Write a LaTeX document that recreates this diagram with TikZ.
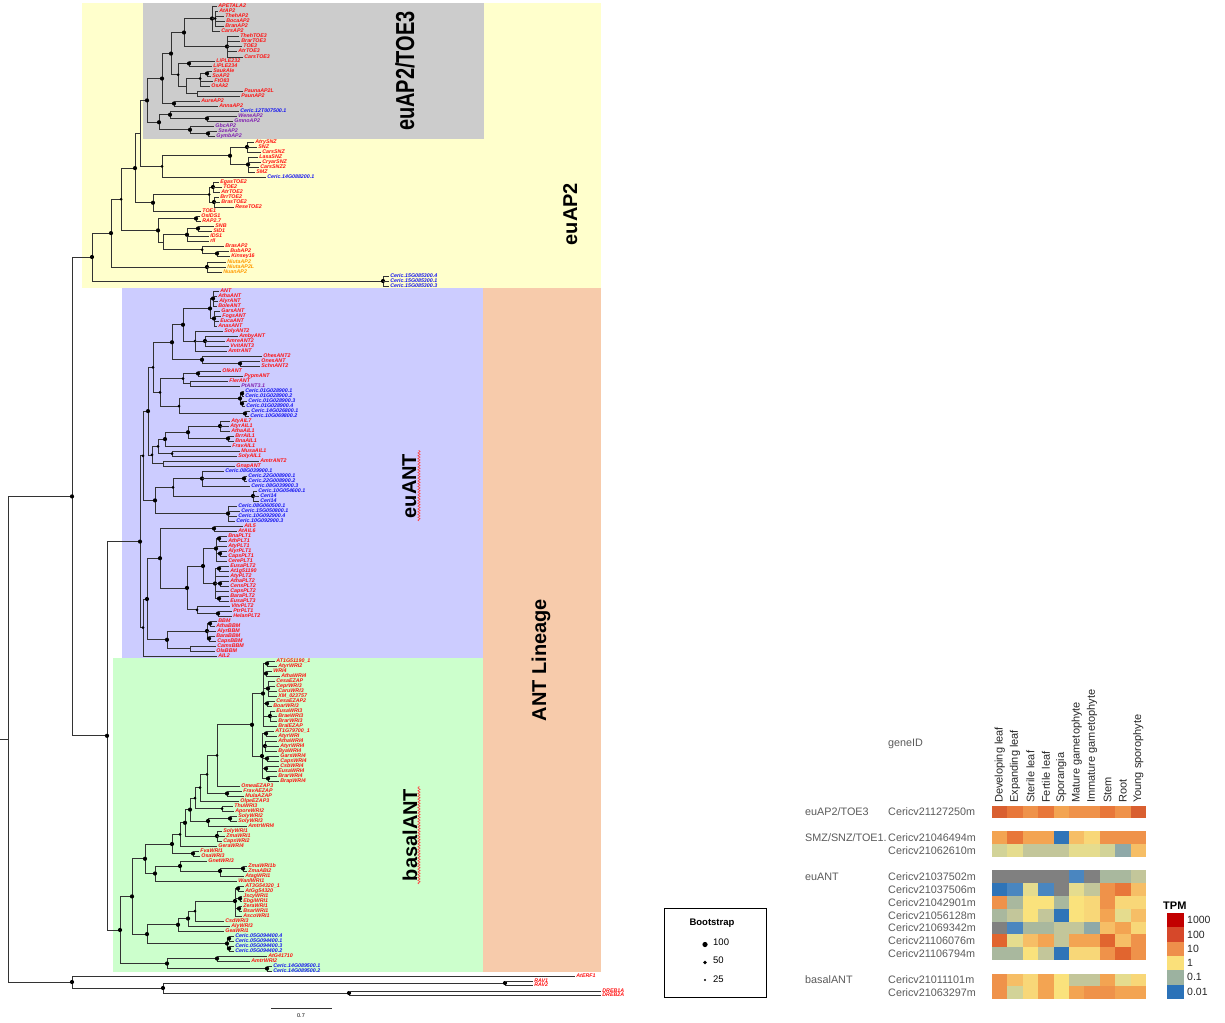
\documentclass[tikz,border=0pt]{standalone}
\usepackage{graphicx}
\usepackage{fontspec}
\setmainfont{Liberation Sans}
\usetikzlibrary{decorations.pathmorphing}
\definecolor{cyel}{HTML}{FFFFCC}
\definecolor{cgry}{HTML}{CCCCCC}
\definecolor{cblu}{HTML}{CCCCFF}
\definecolor{cgrn}{HTML}{CCFFCC}
\definecolor{corg}{HTML}{F7CBAB}
\definecolor{lr}{HTML}{FF1010}
\definecolor{lb}{HTML}{1414F0}
\definecolor{lp}{HTML}{8020B0}
\definecolor{lo}{HTML}{FF9900}
\definecolor{txg}{HTML}{5A5A5A}
\definecolor{hA}{HTML}{D95F30}
\definecolor{hB}{HTML}{E8773A}
\definecolor{hC}{HTML}{EF924A}
\definecolor{hD}{HTML}{F3A452}
\definecolor{hE}{HTML}{F6BE66}
\definecolor{hF}{HTML}{F8D778}
\definecolor{hG}{HTML}{FAE27C}
\definecolor{hH}{HTML}{E5DC8E}
\definecolor{hI}{HTML}{D2D398}
\definecolor{hJ}{HTML}{C3C69A}
\definecolor{hK}{HTML}{A9B89E}
\definecolor{hL}{HTML}{8FA9A8}
\definecolor{hM}{HTML}{4A86C0}
\definecolor{hN}{HTML}{2F74B8}
\definecolor{hO}{HTML}{808080}
\definecolor{hP}{HTML}{E1652F}
\definecolor{t1}{HTML}{C20000}
\definecolor{t2}{HTML}{D6482A}
\definecolor{t3}{HTML}{EE8F4B}
\definecolor{t4}{HTML}{FAE07A}
\definecolor{t5}{HTML}{9CB2A0}
\definecolor{t6}{HTML}{2B72B8}
\tikzset{
 br/.style={draw=black!80, line width=0.75pt},
 lbl/.style={anchor=west, inner sep=0pt, font=\fontsize{5.3}{5.3}\selectfont\bfseries\itshape},
 clade/.style={rotate=90, anchor=base, inner sep=0pt, font=\fontsize{20}{24}\selectfont\bfseries},
 htxt/.style={anchor=west, inner sep=0pt, text=txg, font=\fontsize{10.8}{12}\selectfont},
 ctxt/.style={rotate=90, anchor=west, inner sep=0pt, text=black!85, font=\fontsize{11}{12}\selectfont},
 squig/.style={draw=red!75, line width=0.6pt, decorate, decoration={snake, amplitude=1.1pt, segment length=2.8pt}},
 ltxt/.style={anchor=west, inner sep=0pt, text=black!85, font=\fontsize{10.5}{12}\selectfont},
}
\newcommand\Vt[3]{\draw[br] (#1,#2) -- (#1,#3);}
\newcommand\Hz[3]{\draw[br] (#1,#3) -- (#2,#3);}
\newcommand\Dt[2]{\fill[black] (#1,#2) circle (2.1pt);}
\newcommand\Ds[2]{\fill[black] (#1,#2) circle (1.5pt);}
\newcommand\Lf[5]{\draw[br] (#1,#3) -- (#2,#3); \node[lbl,text=#4] at (#2+1.2,#3) {#5};}
\newcommand\Cl[3]{\foreach \yy/\ee/\nn in {#3} {\Lf{#1}{\ee}{\yy}{#2}{\nn}}}
\newcommand\HRow[2]{\foreach \hc [count=\ii from 0] in {#2} {\fill[\hc] (992+\ii*15.4,#1) rectangle (992+\ii*15.4+15.45,#1+12.85);}}
\begin{document}
\begin{tikzpicture}[x=1pt,y=-1pt]
\useasboundingbox (0,0) rectangle (1225,1022);
% ---------- clade backgrounds
\fill[cyel] (82,3) rectangle (601,288);
\fill[cgry] (143,3) rectangle (484,139);
\fill[cblu] (122,288) rectangle (483,658);
\fill[cgrn] (113,658) rectangle (483,972);
\fill[corg] (483,288) rectangle (601,972);
% ---------- clade labels
\node[clade] (labtoe) at (414,71) {\scalebox{1}[1.3]{euAP2/TOE3}};
\node[clade] (labap2) at (577,214) {euAP2};
\node[clade] (labeuant) at (416,486) {euANT};
\node[clade] (lablin) at (546,660) {ANT Lineage};
\node[clade] (labbas) at (417,835) {basalANT};
\draw[squig] (419,521) -- (419,450);
\draw[squig] (419,884) -- (419,786);
% ---------- root and backbone
\Vt{8}{496.4}{982}
\draw[br] (0,739.2) -- (8,739.2);
\Hz{8}{72}{496.4} \Hz{8}{72}{982}
\Vt{72}{257}{735.8} \Dt{72}{496.4}
\Hz{72}{92}{257} \Hz{72}{107}{735.8}
% ---------- euAP2
\Vt{92}{233.1}{281} \Dt{92}{257}
\Hz{92}{111}{233.1} \Hz{92}{383}{281}
\Vt{383}{276}{286} \Dt{383}{281}
\Cl{383}{lb}{276/389/Ceric.15G085300.4, 281/389/Ceric.15G085300.1, 286/389/Ceric.15G085300.3}
\Vt{111}{199.25}{267} \Dt{111}{233.1}
\Hz{111}{121}{199.25} \Hz{111}{207}{267}
\Vt{207}{262}{272} \Dt{207}{267}
\Cl{207}{lo}{262/226/NiutaAP2, 267/226/NiutaAP2L, 272/222/NuanAP2}
\Vt{121}{168.1}{230.4} \Ds{121}{199.25}
\Hz{121}{135}{168.1} \Hz{121}{158}{230.4}
\Vt{135}{133.4}{202.75} \Dt{135}{168.1}
\Hz{135}{140}{133.4} \Hz{135}{153}{202.75}
\Vt{140}{100.4}{166.4}
\Hz{140}{147}{100.4} \Hz{140}{162}{166.4}
% SNZ
\Vt{162}{155.75}{177} \Ds{162}{166.4}
\Hz{162}{230}{155.75}
\Lf{162}{266}{177}{lb}{Ceric.14G088200.1}
\Vt{230}{147}{164.5} \Dt{230}{155.75}
\Hz{230}{247}{147} \Hz{230}{248}{164.5}
\Vt{247}{142}{152} \Dt{247}{147}
\Cl{247}{lr}{142/254/AtrySNZ, 147/257/SNZ, 152/261/CarsSNZ}
\Vt{248}{157}{172} \Dt{248}{164.5}
\Cl{248}{lr}{157/258/LasaSNZ, 162/261/CryarSNZ, 167/259/CarsSNZ2, 172/255/SMZ}
% TOE2
\Vt{153}{194.5}{211} \Dt{153}{202.75}
\Hz{153}{209}{194.5}
\Lf{153}{201}{211}{lr}{TOE1}
\Vt{209}{187}{202} \Ds{209}{194.5}
\Hz{209}{213}{187} \Hz{209}{214}{202}
\Vt{213}{182}{192} \Dt{213}{187}
\Cl{213}{lr}{182/219/EgasTOE2, 187/222/TOE2, 192/220/AtrTOE2}
\Vt{214}{197}{207} \Dt{214}{202}
\Cl{214}{lr}{197/219/BrrTOE2, 202/220/BrasTOE2, 207/234/ReseTOE2}
% IDS group
\Vt{158}{218.5}{242.25} \Dt{158}{230.4}
\Hz{158}{196}{218.5} \Hz{158}{163}{242.25}
\Vt{196}{216}{221} \Dt{196}{218.5}
\Cl{196}{lr}{216/200/OsIDS1, 221/201/RAP2.7}
\Vt{163}{234.75}{249.75}
\Hz{163}{187}{234.75} \Hz{163}{202}{249.75}
\Vt{187}{228.5}{241} \Dt{187}{234.75}
\Hz{187}{198}{228.5}
\Cl{187}{lr}{236/209/IDS1, 241/209/rIl}
\Vt{198}{226}{231} \Dt{198}{228.5}
\Cl{198}{lr}{226/214/SNB, 231/212/SID1}
\Vt{202}{246}{253.5} \Ds{202}{249.75}
\Lf{202}{224}{246}{lr}{BrasAP2}
\Hz{202}{217}{253.5}
\Vt{217}{251}{256} \Dt{217}{253.5}
\Cl{217}{lr}{251/229/BubAP2, 256/230/Kinsey16}
% ---------- euAP2/TOE3
\Vt{147}{78.55}{122.25} \Dt{147}{100.4}
\Hz{147}{162}{78.55} \Hz{147}{159}{122.25}
\Vt{162}{53.6}{103.5} \Dt{162}{78.55}
\Hz{162}{171}{53.6} \Hz{162}{174}{103.5}
\Vt{171}{32.5}{74.75} \Dt{171}{53.6}
\Hz{171}{184}{32.5} \Hz{171}{178}{74.75}
\Vt{184}{18.5}{46.5} \Dt{184}{32.5}
\Hz{184}{212}{18.5} \Hz{184}{227}{46.5}
\Vt{212}{6}{31} \Dt{212}{18.5}
\Cl{212}{lr}{6/217/APETALA2, 31/220/CarsAP2}
\Hz{212}{215}{18.5}
\Vt{215}{11}{26} \Ds{215}{18.5}
\Cl{215}{lr}{11/218/AtAP2, 16/224/ThehAP2, 21/225/BocaAP2, 26/224/BranAP2}
\Vt{227}{36}{57} \Dt{227}{46.5}
\Cl{227}{lr}{36/239/ThehTOE3, 41/240/BrarTOE3, 46/242/TOE3, 51/237/AtrTOE3, 57/243/CarsTOE3}
\Vt{178}{63.5}{86} \Ds{178}{74.75}
\Hz{178}{189}{63.5} \Hz{178}{186}{86}
\Vt{189}{61}{66} \Dt{189}{63.5}
\Cl{189}{lr}{61/215/LiPLE232, 66/212/LiPLE234}
\Vt{186}{78.5}{93.5}
\Hz{186}{200}{78.5} \Hz{186}{197}{93.5}
\Vt{200}{73.5}{86} \Ds{200}{78.5}
\Hz{200}{207}{73.5}
\Vt{207}{71}{76} \Dt{207}{73.5}
\Cl{207}{lr}{71/212/SaukAle, 76/211/SoAP2}
\Cl{200}{lr}{81/213/FtO83, 86/210/OsAk2}
\Vt{197}{91}{96}
\Cl{197}{lr}{91/243/PaunaAP2L, 96/240/PaunAP2}
\Vt{174}{101}{106} \Dt{174}{103.5}
\Cl{174}{lr}{101/200/AureAP2, 106/218/AnnaAP2}
\Vt{159}{114.75}{129.75} \Dt{159}{122.25}
\Hz{159}{170}{114.75} \Hz{159}{190}{129.75}
\Vt{170}{111}{118.5} \Dt{170}{114.75}
\Lf{170}{239}{111}{lb}{Ceric.12T007500.1}
\Hz{170}{207}{118.5}
\Vt{207}{116}{121} \Dt{207}{118.5}
\Cl{207}{lp}{116/237/WeneAP2, 121/233/GmnoAP2}
\Vt{190}{126}{133.5} \Dt{190}{129.75}
\Lf{190}{214}{126}{lp}{GbcAP2}
\Hz{190}{208}{133.5}
\Vt{208}{131}{136} \Dt{208}{133.5}
\Cl{208}{lp}{131/217/SzeAP2, 136/215/GymbAP2}
% ---------- ANT lineage
\Vt{107}{541.6}{930} \Dt{107}{735.8}
\Hz{107}{140}{541.6} \Hz{107}{120}{930}
% euANT
\Vt{140}{455.75}{627.5} \Dt{140}{541.6}
\Hz{140}{143}{455.75} \Hz{140}{143}{627.5}
\Vt{143}{411.1}{500.4} \Ds{143}{455.75}
\Hz{143}{148}{411.1} \Hz{143}{155}{500.4}
\Vt{148}{367.25}{454.9} \Dt{148}{411.1}
\Hz{148}{153}{367.25} \Hz{148}{152}{454.9}
\Vt{153}{342.25}{392.25} \Ds{153}{367.25}
\Hz{153}{172}{342.25} \Hz{153}{160}{392.25}
\Vt{172}{324.75}{359.75} \Dt{172}{342.25}
\Hz{172}{183}{324.75} \Hz{172}{202}{359.75}
\Vt{183}{308.5}{341} \Dt{183}{324.75}
\Hz{183}{210}{308.5} \Hz{183}{195}{341}
\Vt{210}{298.5}{318.5} \Dt{210}{308.5}
\Hz{210}{213}{298.5} \Hz{210}{214}{318.5}
\Vt{213}{291}{306} \Dt{213}{298.5}
\Cl{213}{lr}{291/219/ANT, 296/217/AthaANT, 301/218/AlyrANT, 306/217/BoleANT}
\Vt{214}{311}{326} \Dt{214}{318.5}
\Cl{214}{lr}{311/220/GarsANT, 316/221/FogsANT, 321/219/EucaANT, 326/217/AnasANT}
\Vt{195}{331}{351} \Ds{195}{341}
\Lf{195}{223}{331}{lr}{SolyANT2}
\Lf{195}{227}{351}{lr}{AmtrANT}
\Hz{195}{205}{341}
\Vt{205}{336}{346} \Dt{205}{341}
\Cl{205}{lr}{336/238/AmbyANT, 341/225/AmreANT2, 346/229/VvitANT3}
\Vt{202}{356}{363.5} \Dt{202}{359.75}
\Lf{202}{262}{356}{lr}{OhesANT2}
\Hz{202}{240}{363.5}
\Vt{240}{361}{366} \Dt{240}{363.5}
\Cl{240}{lr}{361/260/OnesANT, 366/260/SchnANT2}
\Vt{160}{378.5}{406} \Ds{160}{392.25}
\Hz{160}{183}{378.5} \Hz{160}{179}{406}
\Vt{183}{373.5}{383.5} \Ds{183}{378.5}
\Hz{183}{198}{373.5} \Hz{183}{190}{383.5}
\Vt{198}{371}{376} \Dt{198}{373.5}
\Cl{198}{lr}{371/221/OlkANT, 376/243/PypmANT}
\Vt{190}{381}{386}
\Lf{190}{228}{381}{lr}{FlerANT}
\Lf{190}{240}{386}{lp}{PtANT3.1}
\Vt{179}{398.5}{413.5} \Ds{179}{406}
\Hz{179}{240}{398.5} \Hz{179}{245}{413.5}
\Vt{240}{393.5}{403.5} \Dt{240}{398.5}
\Hz{240}{242}{393.5} \Hz{240}{242}{403.5}
\Vt{242}{391}{396} \Dt{242}{393.5}
\Vt{242}{401}{406} \Dt{242}{403.5}
\Cl{242}{lb}{391/244/Ceric.01G028900.1, 396/244/Ceric.01G028900.2, 401/247/Ceric.01G028900.3, 406/245/Ceric.01G028900.4}
\Vt{245}{411}{416} \Dt{245}{413.5}
\Cl{245}{lb}{411/250/Ceric.14G026800.1, 416/249/Ceric.10G069800.2}
\Vt{152}{446.3}{463.5} \Ds{152}{454.9}
\Hz{152}{158}{446.3} \Hz{152}{163}{463.5}
\Vt{158}{439.1}{453.5} \Ds{158}{446.3}
\Hz{158}{165}{439.1} \Hz{158}{172}{453.5}
\Vt{165}{432.25}{446} \Dt{165}{439.1}
\Hz{165}{188}{432.25}
\Lf{165}{231}{446}{lr}{FravAIL1}
\Vt{188}{426}{438.5} \Dt{188}{432.25}
\Hz{188}{220}{426} \Hz{188}{228}{438.5}
\Vt{220}{421}{431} \Dt{220}{426}
\Cl{220}{lr}{421/230/AtyAIL7, 426/229/AtyrAIL1, 431/230/AthaAIL1}
\Vt{228}{436}{441} \Dt{228}{438.5}
\Cl{228}{lr}{436/234/BrrAIL1, 441/234/BnaAIL1}
\Vt{172}{451}{456} \Ds{172}{453.5}
\Cl{172}{lr}{451/240/MusaAIL1, 456/237/SolyAIL1}
\Vt{163}{461}{466}
\Cl{163}{lr}{461/259/AmtrANT2, 466/235/GnapANT}
\Vt{155}{487.25}{513.5} \Dt{155}{500.4}
\Hz{155}{173}{487.25} \Hz{155}{228}{513.5}
\Vt{173}{478.5}{496} \Ds{173}{487.25}
\Hz{173}{202}{478.5} \Hz{173}{253}{496}
\Vt{202}{471}{486} \Dt{202}{478.5}
\Lf{202}{224}{471}{lb}{Ceric.08G039900.1}
\Lf{202}{250}{486}{lb}{Ceric.08G039900.3}
\Hz{202}{244}{478.5}
\Vt{244}{476}{481} \Dt{244}{478.5}
\Cl{244}{lb}{476/247/Ceric.22G008900.1, 481/247/Ceric.22G008900.2}
\Vt{253}{491}{501} \Dt{253}{496}
\Cl{253}{lb}{491/257/Ceric.10G054600.1, 496/259/Ceri14, 501/259/Ceri14}
\Vt{228}{506}{521} \Dt{228}{513.5}
\Cl{228}{lb}{506/237/Ceric.08G060500.1, 511/240/Ceric.15G050800.1, 516/237/Ceric.10G092900.4, 521/235/Ceric.10G092900.3}
\Vt{143}{599}{656} \Ds{143}{627.5}
\Hz{143}{147}{599}
\Lf{143}{217}{656}{lr}{AIL2}
\Vt{147}{558.2}{639.75} \Dt{147}{599}
\Hz{147}{160}{558.2} \Hz{147}{167}{639.75}
\Vt{160}{528.5}{587.9} \Dt{160}{558.2}
\Hz{160}{214}{528.5} \Hz{160}{187}{587.9}
\Vt{214}{526}{531} \Dt{214}{528.5}
\Cl{214}{lr}{526/243/AIL5, 531/237/AtAIL6}
\Vt{187}{566}{609.75} \Dt{187}{587.9}
\Hz{187}{203}{566} \Hz{187}{197}{609.75}
\Vt{203}{548.5}{583.5} \Dt{203}{566}
\Hz{203}{216}{548.5} \Hz{203}{215}{583.5}
\Vt{216}{538.5}{561} \Dt{216}{548.5}
\Hz{216}{219}{538.5} \Vt{219}{536}{541} \Dt{219}{538.5}
\Cl{219}{lr}{536/227/BnaPLT1, 541/227/AthPLT1}
\Lf{216}{227}{546}{lr}{AtyPLT1}
\Hz{216}{220}{553.5} \Vt{220}{551}{556} \Dt{220}{553.5}
\Cl{220}{lr}{551/227/AlyrPLT1, 556/227/CapsPLT1}
\Lf{216}{227}{561}{lr}{CerePLT1}
\Vt{215}{568.5}{598.5} \Dt{215}{583.5}
\Hz{215}{219}{568.5} \Vt{219}{566}{571} \Dt{219}{568.5}
\Cl{219}{lr}{566/229/EusaPLT2, 571/229/At1g51190}
\Lf{215}{229}{576}{lr}{AtyPLT2}
\Hz{215}{220}{583.5} \Vt{220}{581}{586} \Dt{220}{583.5}
\Cl{220}{lr}{581/229/AthaPLT2, 586/229/CensPLT2}
\Lf{215}{229}{591}{lr}{CapsPLT2}
\Hz{215}{219}{598.5} \Vt{219}{596}{601} \Dt{219}{598.5}
\Cl{219}{lr}{596/229/BaraPLT2, 601/229/EusaPLT3}
\Vt{197}{606}{613.5} \Ds{197}{609.75}
\Lf{197}{230}{606}{lr}{VitvPLT2}
\Hz{197}{218}{613.5}
\Vt{218}{611}{616} \Dt{218}{613.5}
\Cl{218}{lr}{611/232/PtrPLT1, 616/232/HelanPLT2}
\Vt{167}{631}{648.5} \Dt{167}{639.75}
\Hz{167}{207}{631} \Hz{167}{190}{648.5}
\Vt{207}{623.5}{638.5} \Dt{207}{631}
\Hz{207}{210}{623.5} \Vt{210}{621}{626} \Dt{210}{623.5}
\Cl{210}{lr}{621/217/BBM, 626/215/AthaBBM}
\Lf{207}{216}{631}{lr}{AlyrBBM}
\Hz{207}{209}{638.5} \Vt{209}{636}{641} \Dt{209}{638.5}
\Cl{209}{lr}{636/215/BaraBBM, 641/216/CapsBBM}
\Vt{190}{646}{651}
\Cl{190}{lr}{646/216/CamsBBM, 651/215/OlaBBM}
% ---------- basalANT
\Vt{120}{896.4}{963.5} \Dt{120}{930}
\Hz{120}{132}{896.4} \Hz{120}{167}{963.5}
\Vt{167}{958.5}{968.5} \Dt{167}{963.5}
\Hz{167}{217}{958.5} \Hz{167}{267}{968.5}
\Vt{217}{956}{961} \Dt{217}{958.5}
\Lf{217}{267}{956}{lr}{AtG41710}
\Lf{217}{250}{961}{lr}{AmtrWRI2}
\Vt{267}{966}{971} \Dt{267}{968.5}
\Cl{267}{lb}{966/272/Ceric.14G089500.1, 971/272/Ceric.14G089500.2}
\Vt{132}{858.75}{934.1} \Dt{132}{896.4}
\Hz{132}{145}{858.75} \Hz{132}{147}{934.1}
\Vt{147}{924.75}{943.5} \Dt{147}{934.1}
\Hz{147}{178}{924.75} \Hz{147}{227}{943.5}
\Vt{227}{938.5}{948.5} \Dt{227}{943.5}
\Hz{227}{229}{938.5} \Vt{229}{936}{941} \Dt{229}{938.5}
\Hz{227}{229}{948.5} \Vt{229}{946}{951} \Dt{229}{948.5}
\Cl{229}{lb}{936/234/Ceric.05G094400.4, 941/234/Ceric.05G094400.1, 946/234/Ceric.05G094400.3, 951/234/Ceric.05G094400.2}
\Vt{178}{918.5}{931} \Dt{178}{924.75}
\Hz{178}{188}{918.5}
\Lf{178}{224}{931}{lr}{GeaWRI1}
\Vt{188}{911}{926} \Dt{188}{918.5}
\Hz{188}{195}{911}
\Lf{188}{230}{926}{lr}{AlyWRI3}
\Vt{195}{901}{921} \Ds{195}{911}
\Hz{195}{235}{901}
\Lf{195}{224}{921}{lr}{CsdWRI3}
\Vt{235}{888.5}{916} \Dt{235}{901}
\Hz{235}{238}{888.5} \Vt{238}{886}{891} \Dt{238}{888.5}
\Cl{238}{lr}{886/244/AT3G54320\_1, 891/244/AtGg54320}
\Hz{235}{240}{898.5} \Vt{240}{896}{901} \Dt{240}{898.5}
\Cl{240}{lr}{896/242/JscyWRI1, 901/242/EbgiWRI1}
\Hz{235}{239}{908.5} \Vt{239}{906}{911} \Dt{239}{908.5}
\Cl{239}{lr}{906/242/ZeraWRI1, 911/242/BsarWRI1}
\Lf{235}{242}{916}{lr}{AscoWRI1}
\Vt{145}{844}{873.5} \Dt{145}{858.75}
\Hz{145}{172}{844} \Hz{145}{155}{873.5}
\Vt{155}{866}{881} \Dt{155}{873.5}
\Hz{155}{180}{866}
\Lf{155}{237}{881}{lr}{WanlWRI1}
\Vt{180}{861}{871} \Dt{180}{866}
\Lf{180}{207}{861}{lr}{GnetWRI3}
\Hz{180}{220}{871}
\Vt{220}{868.5}{876} \Dt{220}{871}
\Hz{220}{243}{868.5} \Vt{243}{866}{871} \Dt{243}{868.5}
\Cl{243}{lr}{866/247/ZmaWRI1b, 871/247/ZmaABI2}
\Lf{220}{244}{876}{lr}{AtagWRI1}
\Vt{172}{834.4}{853.5} \Dt{172}{844}
\Hz{172}{180}{834.4} \Hz{172}{193}{853.5}
\Vt{193}{851}{856} \Dt{193}{853.5}
\Cl{193}{lr}{851/199/FvaWRI1, 856/200/OsaWRI3}
\Vt{180}{822.8}{846} \Ds{180}{834.4}
\Hz{180}{185}{822.8}
\Lf{180}{217}{846}{lr}{GeraWRI4}
\Vt{185}{809.6}{836} \Dt{185}{822.8}
\Hz{185}{190}{809.6} \Hz{185}{217}{836}
\Vt{217}{831}{841} \Dt{217}{836}
\Cl{217}{lr}{831/222/SolyWRI1, 836/225/ZmaWRI1, 841/222/CapsWRI2}
\Vt{190}{798.1}{821} \Dt{190}{809.6}
\Hz{190}{195}{798.1} \Hz{190}{208}{821}
\Vt{208}{818.5}{826} \Dt{208}{821}
\Hz{208}{230}{818.5}
\Lf{208}{247}{826}{lr}{AmtrWRI4}
\Vt{230}{816}{821} \Dt{230}{818.5}
\Cl{230}{lr}{816/237/SolyWRI2, 821/237/SolyWRI3}
\Vt{195}{787.7}{808.5} \Ds{195}{798.1}
\Hz{195}{200}{787.7} \Hz{195}{222}{808.5}
\Vt{222}{806}{811} \Ds{222}{808.5}
\Cl{222}{lr}{806/233/ThuWRI3, 811/234/AporeWRI2}
\Vt{200}{774.4}{801} \Ds{200}{787.7}
\Hz{200}{207}{774.4}
\Lf{200}{239}{801}{lr}{OlpeEZAP3}
\Vt{207}{755.4}{793.5} \Ds{207}{774.4}
\Hz{207}{217}{755.4} \Hz{207}{227}{793.5}
\Vt{227}{791}{796} \Dt{227}{793.5}
\Cl{227}{lr}{791/242/FravAEZAP, 796/244/MulaAZAP}
\Vt{217}{724.75}{786} \Ds{217}{755.4}
\Hz{217}{252}{724.75}
\Lf{217}{240}{786}{lr}{OmeaEZAP3}
\Vt{252}{693.5}{756} \Dt{252}{724.75}
\Hz{252}{263}{693.5} \Hz{252}{262}{756}
\Vt{263}{663.5}{726} \Dt{263}{693.5}
\Hz{263}{267}{663.5} \Vt{267}{661}{666} \Dt{267}{663.5}
\Cl{267}{lr}{661/275/AT1G51190\_1, 666/277/AtyrWRI2}
\Hz{263}{266}{673.5} \Vt{266}{671}{676} \Dt{266}{673.5}
\Cl{266}{lr}{671/272/WRI4, 676/280/AthaWRI4}
\Hz{263}{268}{688.5} \Vt{268}{681}{696} \Dt{268}{688.5}
\Cl{268}{lr}{681/275/CesaEZAP, 686/275/CeprWRI3, 691/277/CaruWRI3, 696/277/XM\_023757}
\Hz{263}{267}{703.5} \Vt{267}{701}{706} \Dt{267}{703.5}
\Cl{267}{lr}{701/275/CesaEZAP2, 706/272/BoarWRI3}
\Hz{263}{270}{716} \Vt{270}{711}{721} \Dt{270}{716}
\Cl{270}{lr}{711/275/EusaWRI3, 716/277/BraeWRI3, 721/277/BrarWRI3}
\Lf{263}{277}{726}{lr}{BralEZAP}
\Vt{262}{733.5}{778.5} \Dt{262}{756}
\Hz{262}{266}{733.5} \Vt{266}{731}{736} \Dt{266}{733.5}
\Cl{266}{lr}{731/274/AT1G79700\_1, 736/277/AtyrWRI}
\Hz{262}{265}{746} \Vt{265}{741}{751} \Dt{265}{746}
\Cl{265}{lr}{741/277/AthaWRI4, 746/279/AtyrWRI4, 751/277/ByaWRI4}
\Hz{262}{267}{758.5} \Vt{267}{756}{761} \Dt{267}{758.5}
\Cl{267}{lr}{756/279/GarsWRI4, 761/279/CapsWRI4}
\Hz{262}{266}{768.5} \Vt{266}{766}{771} \Dt{266}{768.5}
\Cl{266}{lr}{766/279/CsbWRI4, 771/277/EusaWRI4}
\Hz{262}{268}{778.5} \Vt{268}{776}{781} \Dt{268}{778.5}
\Cl{268}{lr}{776/277/BrarWRI4, 781/279/BrapWRI4}
% ---------- outgroup
\Vt{72}{976}{988} \Dt{72}{982}
\Lf{72}{575}{976}{lr}{AtERF1}
\Hz{72}{163}{988}
\Vt{163}{983}{993} \Dt{163}{988}
\Hz{163}{505}{983} \Hz{163}{349}{993}
\Vt{505}{981}{985} \Dt{505}{983}
\Cl{505}{lr}{981/533/RAV1, 985/533/RAV2}
\Vt{349}{991}{995} \Dt{349}{993}
\Cl{349}{lr}{991/601/DREB1A, 995/601/DREB2A}
% scale bar
\coordinate (sb1) at (271,1008); \coordinate (sb2) at (332,1008);
\draw[br] (sb1) -- (sb2);
\node[inner sep=0pt, font=\fontsize{5.5}{6}\selectfont] (sbl) at (301,1015.5) {0.7};
% ---------- bootstrap legend
\node[draw=black, line width=0.8pt, minimum width=102pt, minimum height=89pt, inner sep=0pt] (bsbox) at (715,952.5) {};
\node[inner sep=0pt, font=\fontsize{9.5}{11}\selectfont\bfseries] (bstit) at (712,923) {Bootstrap};
\fill[black] (705,944.5) circle (2.6pt);
\fill[black] (705,962.5) circle (1.9pt);
\fill[black] (705,980) circle (1.2pt);
\node[anchor=west, inner sep=0pt, font=\fontsize{9.5}{11}\selectfont] (bs100) at (713,942) {100};
\node[anchor=west, inner sep=0pt, font=\fontsize{9.5}{11}\selectfont] (bs50) at (713,960) {50};
\node[anchor=west, inner sep=0pt, font=\fontsize{9.5}{11}\selectfont] (bs25) at (713,979.5) {25};
% ---------- heatmap
\node[htxt] (gid) at (888,744) {geneID};
\foreach \cn [count=\k from 0] in {Developing leaf, Expanding leaf, Sterile leaf, Fertile leaf, Sporangia, Mature gametophyte, Immature gametophyte, Stem, Root, Young sporophyte}
  {\node[ctxt] (col\k) at (992+15.4*\k+7.7,803) {\cn};}
\HRow{805.5}{hA,hB,hC,hB,hD,hC,hC,hB,hC,hA}
\HRow{831}{hD,hB,hD,hD,hN,hE,hF,hC,hC,hC}
\HRow{843.8}{hI,hH,hJ,hJ,hJ,hH,hH,hI,hL,hE}
\HRow{870.4}{hO,hO,hO,hO,hO,hM,hO,hK,hK,hJ}
\HRow{883.2}{hN,hM,hH,hM,hO,hH,hJ,hC,hB,hE}
\HRow{896}{hC,hK,hG,hG,hK,hG,hF,hC,hF,hF}
\HRow{908.8}{hK,hJ,hG,hJ,hN,hG,hF,hD,hH,hE}
\HRow{921.6}{hO,hM,hK,hK,hJ,hJ,hL,hE,hD,hF}
\HRow{934.4}{hP,hH,hE,hD,hJ,hD,hD,hP,hE,hC}
\HRow{947.2}{hK,hK,hG,hJ,hN,hF,hF,hC,hP,hC}
\HRow{973.6}{hC,hE,hF,hD,hG,hJ,hJ,hD,hH,hF}
\HRow{986.4}{hC,hI,hF,hD,hG,hD,hC,hC,hD,hD}
\node[htxt] (grp1) at (805,812) {euAP2/TOE3};
\node[htxt] (grp2) at (805,837.4) {SMZ/SNZ/TOE1.};
\node[htxt] (grp3) at (805,876.8) {euANT};
\node[htxt] (grp4) at (805,980) {basalANT};
\foreach \gy/\gn [count=\k] in {812/Cericv21127250m, 837.4/Cericv21046494m, 850.2/Cericv21062610m, 876.8/Cericv21037502m, 889.6/Cericv21037506m, 902.4/Cericv21042901m, 915.2/Cericv21056128m, 928/Cericv21069342m, 940.8/Cericv21106076m, 953.6/Cericv21106794m, 980/Cericv21011101m, 992.8/Cericv21063297m}
  {\node[htxt] (gene\k) at (888,\gy) {\gn};}
% TPM legend
\node[anchor=west, inner sep=0pt, font=\fontsize{11}{12}\selectfont\bfseries] (tpm) at (1163,906) {TPM};
\foreach \tc/\tl [count=\k from 0] in {t1/1000, t2/100, t3/10, t4/1, t5/0.1, t6/0.01}
  {\fill[\tc] (1167,913+14.3*\k) rectangle (1184,913+14.3*\k+14.4);
   \node[ltxt] (tpm\k) at (1187,913+14.3*\k+7.15) {\tl};}
\end{tikzpicture}
\end{document}
